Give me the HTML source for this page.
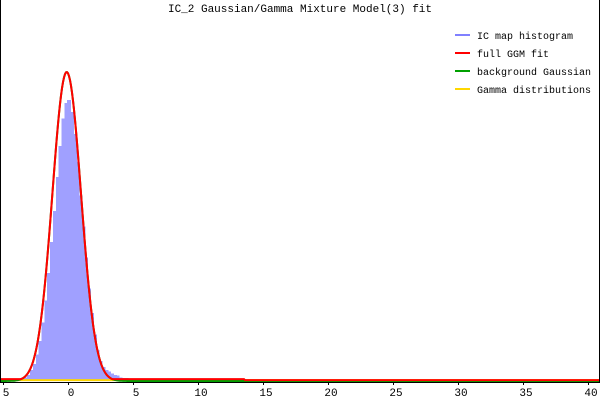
<!DOCTYPE html>
<html><head><meta charset="utf-8">
<style>
body{margin:0;background:#fff;}
svg{display:block;font-family:"Liberation Mono",monospace;}
</style></head>
<body>
<svg id="chart" width="600" height="400">
<text x="300" y="12" font-size="11" text-anchor="middle">IC_2 Gaussian/Gamma Mixture Model(3) fit</text>
<g id="hist" shape-rendering="crispEdges"></g>
<g id="curves"></g>
<line x1="0.5" y1="0" x2="0.5" y2="382" stroke="#000"/>
<line x1="599.5" y1="0" x2="599.5" y2="382" stroke="#000"/>
<line x1="0" y1="382.5" x2="600" y2="382.5" stroke="#000"/>
<g id="ticks"></g>
<g font-size="10">
<g><line x1="455" y1="35" x2="470" y2="35" stroke="#8080ff" stroke-width="2"/><text x="477" y="39">IC map histogram</text></g>
<g><line x1="455" y1="53" x2="470" y2="53" stroke="#ff0000" stroke-width="2"/><text x="477" y="57">full GGM fit</text></g>
<g><line x1="455" y1="71" x2="470" y2="71" stroke="#00a000" stroke-width="2"/><text x="477" y="75">background Gaussian</text></g>
<g><line x1="455" y1="89" x2="470" y2="89" stroke="#ffd700" stroke-width="2"/><text x="477" y="93">Gamma distributions</text></g>
</g>
</svg>
<script>
const binStart = -3.8;
const binWidth = 0.2;
const histValues = [0.005,0.008,0.012,0.02,0.035,0.055,0.085,0.13,0.19,0.26,0.35,0.45,0.55,0.66,0.76,0.85,0.9,0.91,0.87,0.8,0.71,0.6,0.5,0.4,0.3,0.22,0.15,0.1,0.065,0.045,0.035,0.03,0.025,0.02,0.018,0.012,0.01,0.01,0.008,0.006,0.005,0.005,0.004,0.004,0.003];
const gaussMean = -0.1, gaussSd = 1.1, gaussAmp = 1.0;
const tailLevel = [0.006, 0.003];
const tailEnd = [13.6, 40.5];
const tickValues = [-5,0,5,10,15,20,25,30,35,40];
const tickLabels = ["5","0","5","10","15","20","25","30","35","40"];

const NS="http://www.w3.org/2000/svg";
const xS=v=>68+v*13;
const yS=v=>381-v*309;
const hist=document.getElementById('hist');
histValues.forEach((v,i)=>{
  const r=document.createElementNS(NS,'rect');
  const x0=xS(binStart+i*binWidth*1.1), x1=xS(binStart+(i+1)*binWidth*1.1);
  r.setAttribute('x',x0);r.setAttribute('width',x1-x0+1);
  r.setAttribute('y',yS(v));r.setAttribute('height',381-yS(v));
  r.setAttribute('fill','#a0a0ff');
  
  
  hist.appendChild(r);
});
const curves=document.getElementById('curves');
function path(fn,color,w,name){
  let d='';
  for(let px=0;px<=600;px++){
    const v=(px-68)/13;
    d+=(px?'L':'M')+px+','+yS(fn(v)).toFixed(1);
  }
  const p=document.createElementNS(NS,'path');
  p.setAttribute('d',d);p.setAttribute('fill','none');
  p.setAttribute('stroke',color);p.setAttribute('stroke-width',w);
  
  
  curves.appendChild(p);
}
const g=v=>gaussAmp*Math.exp(-0.5*((v-gaussMean)/gaussSd)**2);
const tail=v=>v<tailEnd[0]?tailLevel[0]:tailLevel[1];
path(v=>0.003,'#ffd700',2,'gamma-curve');
path(g,'#00a000',2,'background-gaussian-curve');
path(v=>Math.max(g(v),tail(v)),'#ff0000',2,'full-fit-curve');
const ticks=document.getElementById('ticks');
tickValues.forEach((t,i)=>{
  const l=document.createElementNS(NS,'line');
  l.setAttribute('x1',xS(t)+0.5);l.setAttribute('x2',xS(t)+0.5);
  l.setAttribute('y1',382);l.setAttribute('y2',385);l.setAttribute('stroke','#000');
  
  
  ticks.appendChild(l);
  const tx=document.createElementNS(NS,'text');
  tx.setAttribute('x',Math.min(xS(t)+3,592));tx.setAttribute('y',396);
  tx.setAttribute('font-size','11');tx.setAttribute('text-anchor','middle');
  tx.textContent=tickLabels[i];
  
  
  ticks.appendChild(tx);
});
</script>
</body></html>
